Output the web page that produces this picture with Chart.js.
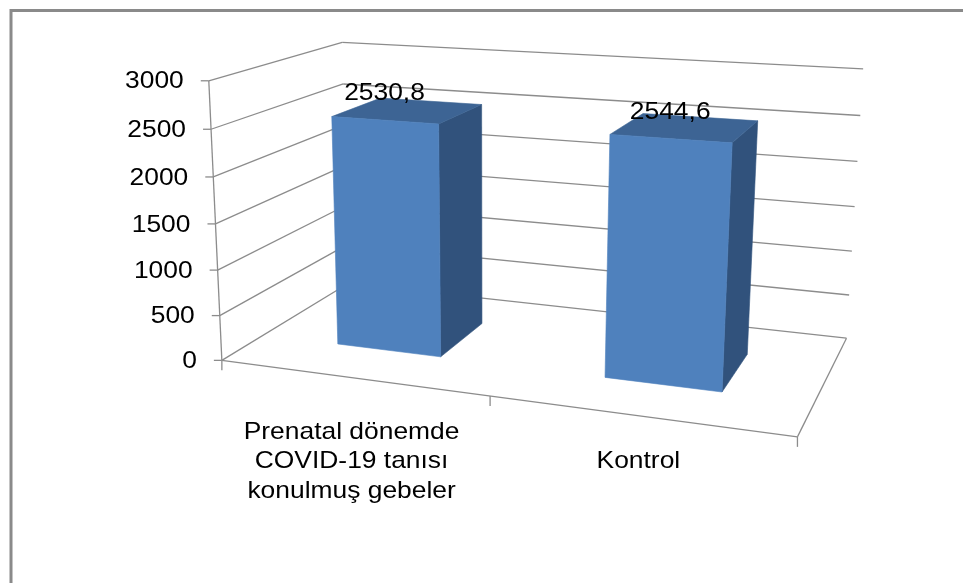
<!DOCTYPE html>
<html>
<head>
<meta charset="utf-8">
<script src="https://cdn.jsdelivr.net/npm/chart.js@4.4.1/dist/chart.umd.min.js"></script>
<style>
  body { margin: 0; background: #fff; }
  canvas { display: block; }
</style>
</head>
<body>
<canvas id="weightChart" width="963" height="583"></canvas>
<script>
const categories = [['Prenatal dönemde', 'COVID-19 tanısı', 'konulmuş gebeler'], 'Kontrol'];
const birthWeights = [2530.8, 2544.6];
const axisMin = 0;
const axisMax = 3000;
const axisStep = 500;

const FONT = '"Liberation Sans", Arial, sans-serif';
const TEXT_STRETCH = 1.1;
const GRID = '#8c8c8c';
const FRONT = '#4f81bd';
const SIDE = '#31527c';
const TOP = '#3d6494';
// bar depth inside the floor (gap depth 150%)
const DEPTH_FROM = 0.3;
const DEPTH_TO = 0.7;

// where the plot box corners land on the page: [u, v, w] -> [x, y]
// u = along categories, v = up the value axis, w = into the page
const boxCorners = [
  [[0, 0, 0], [223, 361]],
  [[0, 1, 0], [208, 80]],
  [[0, 0, 1], [347, 283]],
  [[0, 1, 1], [343, 43]],
  [[1, 0, 1], [847, 338]],
  [[1, 1, 1], [863, 69]],
  [[1, 0, 0], [797, 437]]
];

// least squares fit of a 3x4 perspective matrix to the corners
function fitCamera(pairs) {
  const rows = [], rhs = [];
  pairs.forEach(([[X, Y, Z], [sx, sy]]) => {
    const x = sx / 100, y = sy / 100;
    rows.push([X, Y, Z, 1, 0, 0, 0, 0, -x * X, -x * Y, -x * Z]); rhs.push(x);
    rows.push([0, 0, 0, 0, X, Y, Z, 1, -y * X, -y * Y, -y * Z]); rhs.push(y);
  });
  const n = 11;
  const m = [];
  for (let i = 0; i < n; i++) {
    const row = new Array(n + 1).fill(0);
    rows.forEach((r, k) => {
      for (let j = 0; j < n; j++) row[j] += r[i] * r[j];
      row[n] += r[i] * rhs[k];
    });
    m.push(row);
  }
  for (let c = 0; c < n; c++) {
    let piv = c;
    for (let r = c + 1; r < n; r++) if (Math.abs(m[r][c]) > Math.abs(m[piv][c])) piv = r;
    [m[c], m[piv]] = [m[piv], m[c]];
    for (let r = 0; r < n; r++) {
      if (r === c) continue;
      const f = m[r][c] / m[c][c];
      for (let j = c; j <= n; j++) m[r][j] -= f * m[c][j];
    }
  }
  const p = m.map((r, i) => r[n] / r[i]);
  return (u, v, w) => {
    const d = p[8] * u + p[9] * v + p[10] * w + 1;
    return [
      100 * (p[0] * u + p[1] * v + p[2] * w + p[3]) / d,
      100 * (p[4] * u + p[5] * v + p[6] * w + p[7]) / d
    ];
  };
}

const project = fitCamera(boxCorners);

function line(ctx, a, b) {
  ctx.beginPath();
  ctx.moveTo(a[0], a[1]);
  ctx.lineTo(b[0], b[1]);
  ctx.stroke();
}

function face(ctx, pts, color) {
  ctx.beginPath();
  pts.forEach((p, i) => (i ? ctx.lineTo(p[0], p[1]) : ctx.moveTo(p[0], p[1])));
  ctx.closePath();
  ctx.fillStyle = color;
  ctx.fill();
  ctx.strokeStyle = color;
  ctx.lineWidth = 0.6;
  ctx.stroke();
}

function text(ctx, str, x, y, align) {
  ctx.save();
  ctx.translate(x, y);
  ctx.scale(TEXT_STRETCH, 1);
  ctx.textAlign = align;
  ctx.fillText(str, 0, 0);
  ctx.restore();
}

const perspectiveBars = {
  id: 'perspectiveBars',
  beforeDatasetsDraw: () => false,
  afterDraw(chart) {
    const { ctx, chartArea: area, scales } = chart;
    const yScale = scales.y;
    const toU = px => (px - area.left) / area.width;
    const toV = val => (area.bottom - yScale.getPixelForValue(val)) / area.height;
    const ticks = yScale.ticks.map(t => t.value);
    const nCat = chart.data.labels.length;

    ctx.save();

    // frame round the whole picture
    ctx.strokeStyle = '#8a8a8a';
    ctx.lineWidth = 3;
    ctx.beginPath();
    ctx.moveTo(11, 600);
    ctx.lineTo(11, 10.5);
    ctx.lineTo(970, 10.5);
    ctx.stroke();

    // back and side wall gridlines
    ctx.strokeStyle = GRID;
    ctx.lineWidth = 1.3;
    ticks.forEach(val => {
      const v = toV(val);
      line(ctx, project(0, v, 0), project(0, v, 1));
      line(ctx, project(0, v, 1), project(1, v, 1));
    });

    // floor edges and the value axis
    line(ctx, project(0, 0, 0), project(1, 0, 0));
    line(ctx, project(1, 0, 0), project(1, 0, 1));
    line(ctx, project(0, 0, 0), project(0, 1, 0));

    // value ticks and labels
    ctx.fillStyle = '#000';
    ctx.font = '24px ' + FONT;
    ctx.textBaseline = 'middle';
    ticks.forEach(val => {
      const p = project(0, toV(val), 0);
      line(ctx, [p[0] - 8, p[1]], p);
      text(ctx, String(val), p[0] - 25, p[1] + 1, 'right');
    });

    // category ticks along the front floor edge
    for (let i = 0; i <= nCat; i++) {
      const p = project(i / nCat, 0, 0);
      line(ctx, p, [p[0], p[1] + 10]);
    }

    // bars as boxes
    const meta = chart.getDatasetMeta(0);
    const values = chart.data.datasets[0].data;
    meta.data.forEach((bar, i) => {
      const u0 = toU(bar.x - bar.width / 2);
      const u1 = toU(bar.x + bar.width / 2);
      const vt = toV(values[i]);
      const w0 = DEPTH_FROM, w1 = DEPTH_TO;
      face(ctx, [project(u1, 0, w0), project(u1, 0, w1), project(u1, vt, w1), project(u1, vt, w0)], SIDE);
      face(ctx, [project(u0, vt, w0), project(u1, vt, w0), project(u1, vt, w1), project(u0, vt, w1)], TOP);
      face(ctx, [project(u0, 0, w0), project(u1, 0, w0), project(u1, vt, w0), project(u0, vt, w0)], FRONT);

      const top = project((u0 + u1) / 2, vt, w0);
      ctx.fillStyle = '#000';
      ctx.textBaseline = 'alphabetic';
      text(ctx, String(values[i]).replace('.', ','), top[0], top[1] - 20, 'center');
    });

    // category labels under the floor
    const labelMid = project(1, 0, 0)[1] + 25;
    ctx.textBaseline = 'middle';
    chart.data.labels.forEach((lab, i) => {
      const lines = Array.isArray(lab) ? lab : [lab];
      const x = project((i + 0.5) / nCat, 0, 0)[0];
      const start = labelMid - (lines.length - 1) * 29.5 / 2;
      lines.forEach((s, k) => text(ctx, s, x, start + k * 29.5, 'center'));
    });

    ctx.restore();
  }
};

new Chart(document.getElementById('weightChart'), {
  type: 'bar',
  data: {
    labels: categories,
    datasets: [{
      data: birthWeights,
      backgroundColor: FRONT,
      categoryPercentage: 0.8,
      barPercentage: 0.5
    }]
  },
  options: {
    responsive: false,
    animation: false,
    devicePixelRatio: 1,
    layout: { padding: { left: 200, right: 100, top: 60, bottom: 200 } },
    plugins: { legend: { display: false }, tooltip: { enabled: false } },
    scales: {
      x: { display: false },
      y: { display: false, min: axisMin, max: axisMax, ticks: { stepSize: axisStep } }
    }
  },
  plugins: [perspectiveBars]
});
</script>
</body>
</html>
